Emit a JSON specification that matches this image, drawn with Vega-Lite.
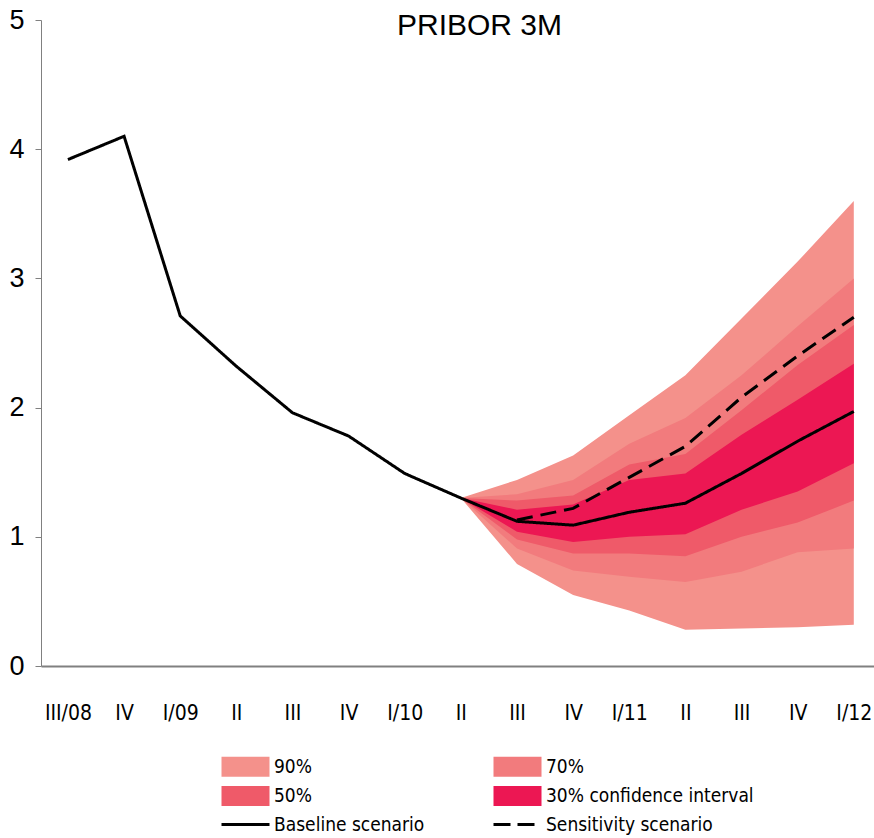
{
  "$schema": "https://vega.github.io/schema/vega-lite/v6.json",
  "width": 833,
  "height": 646,
  "autosize": {"type": "none"},
  "padding": {"left": 41, "top": 20, "right": 0, "bottom": 172},
  "background": "white",
  "title": {
    "text": "PRIBOR 3M",
    "font": "Liberation Sans",
    "fontSize": 30,
    "fontWeight": "normal",
    "color": "#000000",
    "anchor": "middle",
    "baseline": "middle",
    "dx": 22,
    "offset": -50
  },
  "datasets": {
    "fan": [
      {"t": 7, "band": "90%", "lo": 1.30, "hi": 1.30},
      {"t": 8, "band": "90%", "lo": 0.79, "hi": 1.44},
      {"t": 9, "band": "90%", "lo": 0.55, "hi": 1.63},
      {"t": 10, "band": "90%", "lo": 0.43, "hi": 1.94},
      {"t": 11, "band": "90%", "lo": 0.28, "hi": 2.25},
      {"t": 12, "band": "90%", "lo": 0.29, "hi": 2.69},
      {"t": 13, "band": "90%", "lo": 0.30, "hi": 3.13},
      {"t": 14, "band": "90%", "lo": 0.32, "hi": 3.60},
      {"t": 7, "band": "70%", "lo": 1.30, "hi": 1.30},
      {"t": 8, "band": "70%", "lo": 0.91, "hi": 1.33},
      {"t": 9, "band": "70%", "lo": 0.74, "hi": 1.44},
      {"t": 10, "band": "70%", "lo": 0.69, "hi": 1.72},
      {"t": 11, "band": "70%", "lo": 0.65, "hi": 1.92},
      {"t": 12, "band": "70%", "lo": 0.73, "hi": 2.25},
      {"t": 13, "band": "70%", "lo": 0.88, "hi": 2.63},
      {"t": 14, "band": "70%", "lo": 0.91, "hi": 3.00},
      {"t": 7, "band": "50%", "lo": 1.30, "hi": 1.30},
      {"t": 8, "band": "50%", "lo": 0.98, "hi": 1.28},
      {"t": 9, "band": "50%", "lo": 0.87, "hi": 1.32},
      {"t": 10, "band": "50%", "lo": 0.87, "hi": 1.56},
      {"t": 11, "band": "50%", "lo": 0.85, "hi": 1.64},
      {"t": 12, "band": "50%", "lo": 1.00, "hi": 1.98},
      {"t": 13, "band": "50%", "lo": 1.11, "hi": 2.33},
      {"t": 14, "band": "50%", "lo": 1.28, "hi": 2.64},
      {"t": 7, "band": "30% confidence interval", "lo": 1.30, "hi": 1.30},
      {"t": 8, "band": "30% confidence interval", "lo": 1.04, "hi": 1.21},
      {"t": 9, "band": "30% confidence interval", "lo": 0.96, "hi": 1.25},
      {"t": 10, "band": "30% confidence interval", "lo": 1.00, "hi": 1.44},
      {"t": 11, "band": "30% confidence interval", "lo": 1.02, "hi": 1.49},
      {"t": 12, "band": "30% confidence interval", "lo": 1.21, "hi": 1.79},
      {"t": 13, "band": "30% confidence interval", "lo": 1.35, "hi": 2.06},
      {"t": 14, "band": "30% confidence interval", "lo": 1.57, "hi": 2.34}
    ],
    "lines": [
      {"t": 0, "series": "Baseline scenario", "value": 3.92},
      {"t": 1, "series": "Baseline scenario", "value": 4.10},
      {"t": 2, "series": "Baseline scenario", "value": 2.71},
      {"t": 3, "series": "Baseline scenario", "value": 2.32},
      {"t": 4, "series": "Baseline scenario", "value": 1.96},
      {"t": 5, "series": "Baseline scenario", "value": 1.78},
      {"t": 6, "series": "Baseline scenario", "value": 1.49},
      {"t": 7, "series": "Baseline scenario", "value": 1.30},
      {"t": 8, "series": "Baseline scenario", "value": 1.12},
      {"t": 9, "series": "Baseline scenario", "value": 1.09},
      {"t": 10, "series": "Baseline scenario", "value": 1.19},
      {"t": 11, "series": "Baseline scenario", "value": 1.26},
      {"t": 12, "series": "Baseline scenario", "value": 1.49},
      {"t": 13, "series": "Baseline scenario", "value": 1.74},
      {"t": 14, "series": "Baseline scenario", "value": 1.97},
      {"t": 8, "series": "Sensitivity scenario", "value": 1.13},
      {"t": 9, "series": "Sensitivity scenario", "value": 1.22},
      {"t": 10, "series": "Sensitivity scenario", "value": 1.46},
      {"t": 11, "series": "Sensitivity scenario", "value": 1.70},
      {"t": 12, "series": "Sensitivity scenario", "value": 2.08},
      {"t": 13, "series": "Sensitivity scenario", "value": 2.40},
      {"t": 14, "series": "Sensitivity scenario", "value": 2.70}
    ]
  },
  "layer": [
    {
      "data": {"name": "fan"},
      "mark": {"type": "area", "opacity": 1, "strokeWidth": 0},
      "encoding": {
        "x": {
          "field": "t",
          "type": "quantitative",
          "scale": {"domain": [-0.48, 14.36], "nice": false, "zero": false},
          "axis": {
            "values": [0, 1, 2, 3, 4, 5, 6, 7, 8, 9, 10, 11, 12, 13, 14],
            "labelExpr": "['III/08','IV','I/09','II','III','IV','I/10','II','III','IV','I/11','II','III','IV','I/12'][datum.value]",
            "ticks": false,
            "grid": false,
            "title": null,
            "domainColor": "#808080",
            "domainWidth": 2,
            "labelFont": "DejaVu Sans Condensed, Liberation Sans, sans-serif",
            "labelFontSize": 21,
            "labelColor": "#000000",
            "labelPadding": 36,
            "labelFlush": false,
            "labelOverlap": false
          }
        },
        "y": {
          "field": "lo",
          "type": "quantitative",
          "scale": {"domain": [0, 5], "nice": false, "zero": true},
          "axis": {
            "values": [0, 1, 2, 3, 4, 5],
            "format": "d",
            "grid": false,
            "title": null,
            "domainColor": "#808080",
            "tickColor": "#808080",
            "tickSize": 6,
            "labelFont": "Liberation Sans",
            "labelFontSize": 27,
            "labelColor": "#000000",
            "labelPadding": 11
          }
        },
        "y2": {"field": "hi"},
        "color": {
          "field": "band",
          "type": "nominal",
          "scale": {
            "domain": ["90%", "50%", "Baseline scenario", "70%", "30% confidence interval", "Sensitivity scenario"],
            "range": ["#F4918B", "#EF5A69", "#000000", "#F27B7D", "#EC1753", "#000000"]
          },
          "legend": {
            "title": null,
            "orient": "none",
            "legendX": 195,
            "legendY": 737,
            "columns": 2,
            "columnPadding": 62,
            "rowPadding": 8.5,
            "padding": 0,
            "symbolSize": 2304,
            "symbolType": "M-1,-0.42H1V0.42H-1Z",
            "symbolOpacity": 1,
            "labelFont": "DejaVu Sans Condensed, Liberation Sans, sans-serif",
            "labelFontSize": 19,
            "labelColor": "#000000",
            "labelOffset": 19,
            "labelLimit": 400,
            "encode": {
              "symbols": {
                "update": {
                  "shape": {"signal": "indexof(['Baseline scenario','Sensitivity scenario'], datum.value) >= 0 ? 'stroke' : 'M-1,-0.42H1V0.42H-1Z'"},
                  "fill": {"signal": "indexof(['Baseline scenario','Sensitivity scenario'], datum.value) >= 0 ? 'transparent' : scale('color', datum.value)"},
                  "stroke": {"signal": "indexof(['Baseline scenario','Sensitivity scenario'], datum.value) >= 0 ? '#000000' : 'transparent'"},
                  "strokeWidth": {"signal": "indexof(['Baseline scenario','Sensitivity scenario'], datum.value) >= 0 ? 3 : 0"},
                  "strokeDash": {"signal": "datum.value === 'Sensitivity scenario' ? [17, 7] : [1, 0]"},
                  "opacity": {"value": 1}
                }
              }
            }
          }
        }
      }
    },
    {
      "data": {"name": "lines"},
      "mark": {"type": "line", "strokeWidth": 3},
      "encoding": {
        "x": {"field": "t", "type": "quantitative"},
        "y": {"field": "value", "type": "quantitative"},
        "color": {"field": "series", "type": "nominal"},
        "strokeDash": {
          "field": "series",
          "type": "nominal",
          "scale": {"domain": ["Baseline scenario", "Sensitivity scenario"], "range": [[1, 0], [16, 8]]},
          "legend": null
        }
      }
    }
  ],
  "config": {
    "view": {"stroke": null},
    "font": "Liberation Sans"
  }
}
